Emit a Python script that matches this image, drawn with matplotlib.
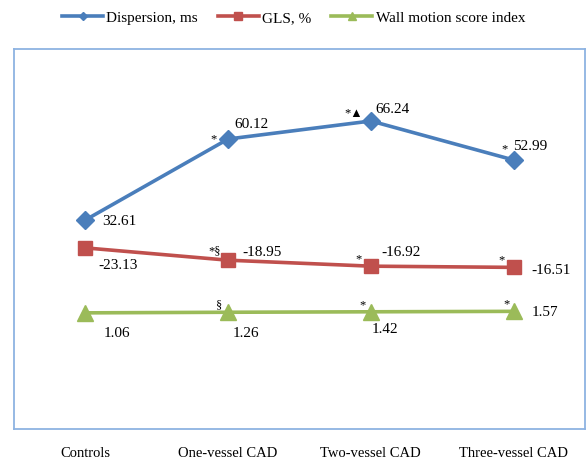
import numpy as np
import matplotlib.pyplot as plt

plt.rcParams["font.family"] = ["Liberation Serif", "DejaVu Sans"]

# Data
groups = ["Controls", "One-vessel CAD", "Two-vessel CAD", "Three-vessel CAD"]
dispersion = [32.61, 60.12, 66.24, 52.99]
gls = [-23.13, -18.95, -16.92, -16.51]
wmsi = [1.06, 1.26, 1.42, 1.57]

# significance marks next to each point
disp_marks = ["", "*", "*\u25B2", "*"]
gls_marks = ["", "*\u00A7", "*", "*"]
wmsi_marks = ["", "\u00A7", "*", "*"]

# label offsets in pixels (dx, dy), dy positive = up
disp_off = [(17, -1), (6, 16), (5, 12), (-1, 14)]
gls_off = [(13, -17), (14, 9), (10, 15), (18, -2)]
wmsi_off = [(18, -20), (5, -20), (1, -17), (18, 0)]
disp_mark_off = [None, (-11, 1), (-8, 8), (-6, 12)]
gls_mark_off = [None, (-7, 10), (-9, 8), (-9, 8)]
wmsi_mark_off = [None, (-6, 8), (-5, 7), (-4, 8)]

blue = "#4A7EBB"
red = "#C0504D"
green = "#9BBB59"

fig = plt.figure(figsize=(5.87, 4.64), dpi=100)
ax = fig.add_axes([14 / 587, (464 - 430) / 464, 571 / 587, 380 / 464])

x = np.arange(len(groups))
ax.plot(x, dispersion, color=blue, lw=2.6, marker="D", ms=9,
        label="Dispersion, ms")
ax.plot(x, np.abs(gls), color=red, lw=2.6, marker="s", ms=10.5,
        label="GLS, %")
ax.plot(x, wmsi, color=green, lw=2.6, marker="^", ms=12,
        label="Wall motion score index")

px = 72 / 100  # pixels -> points


def put_labels(yvals, shown, offs, marks, moffs):
    for i in range(len(yvals)):
        dx, dy = offs[i]
        ax.annotate(f"{shown[i]:.2f}", (x[i], yvals[i]),
                    xytext=(dx * px, dy * px), textcoords="offset points",
                    ha="left", va="center", fontsize=11)
        if marks[i]:
            mx, my = moffs[i]
            ax.annotate(marks[i], (x[i], yvals[i]),
                        xytext=(mx * px, my * px), textcoords="offset points",
                        ha="right", va="center", fontsize=9)


put_labels(dispersion, dispersion, disp_off, disp_marks, disp_mark_off)
put_labels(np.abs(gls), gls, gls_off, gls_marks, gls_mark_off)
put_labels(wmsi, wmsi, wmsi_off, wmsi_marks, wmsi_mark_off)

ax.set_xlim(-0.5, 3.5)
ax.set_ylim(-38.4, 90.7)
ax.set_xticks(x)
ax.set_xticklabels(groups, fontsize=10.5)
ax.tick_params(axis="x", length=0, pad=12)
ax.set_yticks([])
for s in ax.spines.values():
    s.set_color("#8DB3E2")
    s.set_linewidth(1.3)

leg_handles, leg_labels = ax.get_legend_handles_labels()
fig.legend(leg_handles, leg_labels, loc="center", bbox_to_anchor=(0.5, 1 - 18 / 464),
           ncol=3, frameon=False, fontsize=11, handlelength=2.7,
           handletextpad=0.2, columnspacing=1.3, markerscale=0.5)

fig.savefig("out.png", dpi=100)
